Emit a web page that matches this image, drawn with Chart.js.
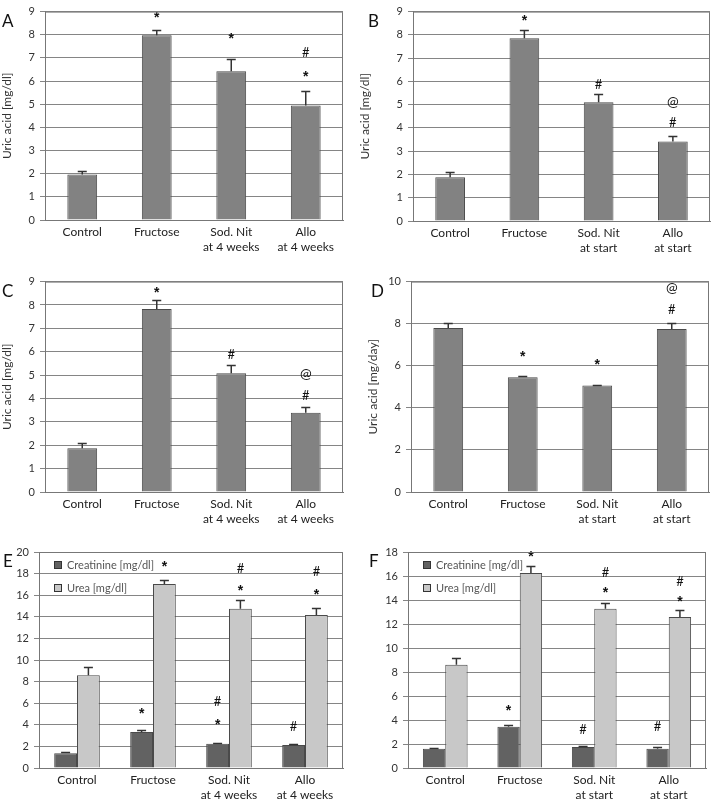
<!DOCTYPE html>
<html lang="en">
<head>
<meta charset="UTF-8">
<title>Uric acid, creatinine and urea</title>
<script src="https://cdn.jsdelivr.net/npm/chart.js"></script>
<style>
  body { margin: 0; background: #fff; width: 712px; height: 800px; position: relative; overflow: hidden; }
  .panel { position: absolute; }
</style>
</head>
<body>
<div class="panel" style="left:0;top:0;width:356px;height:270px"><canvas id="chartA"></canvas></div>
<div class="panel" style="left:356px;top:0;width:356px;height:270px"><canvas id="chartB"></canvas></div>
<div class="panel" style="left:0;top:270px;width:356px;height:270px"><canvas id="chartC"></canvas></div>
<div class="panel" style="left:356px;top:270px;width:356px;height:270px"><canvas id="chartD"></canvas></div>
<div class="panel" style="left:0;top:540px;width:356px;height:260px"><canvas id="chartE"></canvas></div>
<div class="panel" style="left:356px;top:540px;width:356px;height:260px"><canvas id="chartF"></canvas></div>
<script>
// categories
const labels4wk = ['Control', 'Fructose', ['Sod. Nit', 'at 4 weeks'], ['Allo', 'at 4 weeks']];
const labelsStart = ['Control', 'Fructose', ['Sod. Nit', 'at start'], ['Allo', 'at start']];

// A - serum uric acid, treatment at 4 weeks
const uricA = [1.97, 7.98, 6.42, 4.95];
const uricA_se = [0.13, 0.24, 0.55, 0.62];
const uricA_marks = [[], [['*', 8.85]], [['*', 7.95]], [['#', 7.2], ['*', 6.3]]];

// B - serum uric acid, treatment at start
const uricB = [1.88, 7.85, 5.1, 3.42];
const uricB_se = [0.24, 0.35, 0.37, 0.25];
const uricB_marks = [[], [['*', 8.7]], [['#', 5.85]], [['@', 5.15], ['#', 4.2]]];

// C - uric acid, treatment at 4 weeks
const uricC = [1.87, 7.83, 5.08, 3.39];
const uricC_se = [0.23, 0.4, 0.36, 0.25];
const uricC_marks = [[], [['*', 8.65]], [['#', 5.85]], [['@', 5.05], ['#', 4.1]]];

// D - urinary uric acid (mg/day)
const uricD = [7.8, 5.45, 5.06, 7.75];
const uricD_se = [0.23, 0.04, 0.04, 0.28];
const uricD_marks = [[], [['*', 6.55]], [['*', 6.15]], [['#', 8.65], ['@', 9.7]]];

// E - creatinine / urea, treatment at 4 weeks
const creatE = [1.36, 3.33, 2.25, 2.13];
const creatE_se = [0.1, 0.2, 0.06, 0.08];
const creatE_marks = [[], [['*', 5.25]], [['*', 4.25], ['#', 6.1]], [['#', 3.8]]];
const ureaE = [8.58, 17.04, 14.75, 14.17];
const ureaE_se = [0.74, 0.4, 0.84, 0.68];
const ureaE_marks = [[], [['*', 18.9]], [['*', 16.65], ['#', 18.45]], [['*', 16.3], ['#', 18.15]]];

// F - creatinine / urea, treatment at start
const creatF = [1.6, 3.44, 1.75, 1.61];
const creatF_se = [0.06, 0.14, 0.05, 0.15];
const creatF_marks = [[], [['*', 5.0]], [['#', 3.15]], [['#', 3.45]]];
const ureaF = [8.6, 16.25, 13.28, 12.58];
const ureaF_se = [0.56, 0.55, 0.47, 0.56];
const ureaF_marks = [[], [['*', 17.8]], [['*', 14.8], ['#', 16.3]], [['*', 14.1], ['#', 15.55]]];

const FONT = 'Lato, "Liberation Sans", sans-serif';
const GRID = '#858585';
const FRAME = '#777';

function uric(label, data, se, marks) {
  return { label: label, data: data, se: se, marks: marks, fill: '#828282' };
}

const panels = [
  { id: 'chartA', letter: 'A', lx: 2, w: 356, h: 270, area: { left: 45, top: 4, right: 343, bottom: 220 }, padLeft: 0,
    yTitle: 'Uric acid [mg/dl]', max: 9, step: 1, labels: labels4wk, cat: 1, bar: 0.4,
    series: [uric('Uric acid', uricA, uricA_se, uricA_marks)] },
  { id: 'chartB', letter: 'B', lx: 12, w: 356, h: 270, area: { left: 57, top: 4, right: 354, bottom: 221 }, padLeft: 2,
    yTitle: 'Uric acid [mg/dl]', max: 9, step: 1, labels: labelsStart, cat: 1, bar: 0.4,
    series: [uric('Uric acid', uricB, uricB_se, uricB_marks)] },
  { id: 'chartC', letter: 'C', lx: 2, w: 356, h: 270, area: { left: 45, top: 6, right: 343, bottom: 222 }, padLeft: 0,
    yTitle: 'Uric acid [mg/dl]', max: 9, step: 1, labels: labels4wk, cat: 1, bar: 0.4,
    series: [uric('Uric acid', uricC, uricC_se, uricC_marks)] },
  { id: 'chartD', letter: 'D', lx: 15, w: 356, h: 270, area: { left: 55, top: 6, right: 353, bottom: 222 }, padLeft: 10,
    yTitle: 'Uric acid [mg/day]', max: 10, step: 2, labels: labelsStart, cat: 1, bar: 0.4,
    series: [uric('Uric acid', uricD, uricD_se, uricD_marks)] },
  { id: 'chartE', letter: 'E', lx: 3, w: 356, h: 260, area: { left: 39, top: 12, right: 343, bottom: 228 }, padLeft: 0,
    yTitle: '', max: 20, step: 2, labels: labels4wk, cat: 0.6, bar: 1, legend: true,
    series: [
      { label: 'Creatinine [mg/dl]', data: creatE, se: creatE_se, marks: creatE_marks, fill: '#626262' },
      { label: 'Urea [mg/dl]', data: ureaE, se: ureaE_se, marks: ureaE_marks, fill: '#c8c8c8' }
    ] },
  { id: 'chartF', letter: 'F', lx: 13, w: 356, h: 260, area: { left: 52, top: 12, right: 350, bottom: 228 }, padLeft: 0,
    yTitle: '', max: 18, step: 2, labels: labelsStart, cat: 0.6, bar: 1, legend: true,
    series: [
      { label: 'Creatinine [mg/dl]', data: creatF, se: creatF_se, marks: creatF_marks, fill: '#626262' },
      { label: 'Urea [mg/dl]', data: ureaF, se: ureaF_se, marks: ureaF_marks, fill: '#c8c8c8' }
    ] }
];

// error bars, significance marks, frame, panel letter, legend
function extras(p) {
  return {
    id: 'extras' + p.letter,
    afterDatasetsDraw(chart) {
      const ctx = chart.ctx;
      const ys = chart.scales.y;
      const a = chart.chartArea;
      ctx.save();
      p.series.forEach((s, di) => {
        const meta = chart.getDatasetMeta(di);
        meta.data.forEach((bar, i) => {
          const top = Math.round(ys.getPixelForValue(s.data[i] + s.se[i])) + 0.5;
          ctx.strokeStyle = '#333';
          ctx.lineWidth = 1.5;
          ctx.beginPath();
          ctx.moveTo(bar.x, bar.y);
          ctx.lineTo(bar.x, top);
          ctx.moveTo(bar.x - 4.5, top);
          ctx.lineTo(bar.x + 4.5, top);
          ctx.stroke();
          ctx.fillStyle = '#111';
          ctx.textAlign = 'center';
          ctx.textBaseline = 'middle';
          s.marks[i].forEach(m => {
            const yy = ys.getPixelForValue(m[1]);
            if (m[0] === '*') {
              ctx.font = 'bold 14px "Liberation Sans", sans-serif';
              ctx.fillText('*', bar.x, yy + 3);
            } else {
              ctx.font = (m[0] === '@' ? '14px ' : '13px ') + FONT;
              ctx.fillText(m[0], bar.x, yy);
            }
          });
        });
      });
      // frame
      ctx.strokeStyle = FRAME;
      ctx.lineWidth = 1;
      ctx.beginPath();
      ctx.moveTo(a.left, a.top + 0.5);
      ctx.lineTo(a.right - 0.5, a.top + 0.5);
      ctx.lineTo(a.right - 0.5, a.bottom);
      ctx.stroke();
      // letter
      ctx.fillStyle = '#111';
      ctx.font = '17px ' + FONT;
      ctx.textAlign = 'left';
      ctx.textBaseline = 'top';
      ctx.fillText(p.letter, p.lx, a.top + 1);
      // legend
      if (p.legend) {
        ctx.font = '11px ' + FONT;
        ctx.textBaseline = 'middle';
        p.series.forEach((s, di) => {
          const lx = a.left + 15;
          const ly = a.top + 13 + di * 23;
          ctx.fillStyle = s.fill;
          ctx.fillRect(lx, ly - 3.5, 7, 7);
          ctx.strokeStyle = '#333';
          ctx.strokeRect(lx + 0.5, ly - 3.5, 7, 7);
          ctx.fillStyle = '#555';
          ctx.fillText(s.label, lx + 13, ly);
        });
      }
      ctx.restore();
    }
  };
}

panels.forEach(p => {
  new Chart(document.getElementById(p.id), {
    type: 'bar',
    data: {
      labels: p.labels,
      datasets: p.series.map(s => ({
        label: s.label,
        data: s.data,
        backgroundColor: s.fill,
        borderColor: '#4a4a4a',
        borderWidth: 1,
        categoryPercentage: p.cat,
        barPercentage: p.bar
      }))
    },
    options: {
      responsive: true,
      maintainAspectRatio: false,
      animation: false,
      layout: { padding: { left: p.padLeft, top: p.area.top, right: p.w - p.area.right, bottom: 0 } },
      plugins: { legend: { display: false }, tooltip: { enabled: false } },
      scales: {
        x: {
          grid: { display: false, drawTicks: false, tickLength: 0 },
          border: { color: FRAME },
          ticks: { color: '#222', font: { family: FONT, size: 12, lineHeight: 1.25 }, padding: 5, maxRotation: 0, autoSkip: false },
          afterFit(s) { s.height = p.h - p.area.bottom; }
        },
        y: {
          min: 0,
          max: p.max,
          ticks: { stepSize: p.step, color: '#333', font: { family: FONT, size: 11 }, padding: 5 },
          grid: { color: GRID, tickLength: 5 },
          border: { color: FRAME },
          title: { display: !!p.yTitle, text: p.yTitle, color: '#333', font: { family: FONT, size: 12 }, padding: { top: 0, bottom: 0 } },
          afterFit(s) { s.width = p.area.left - p.padLeft; }
        }
      }
    },
    plugins: [extras(p)]
  });
});
</script>
</body>
</html>
